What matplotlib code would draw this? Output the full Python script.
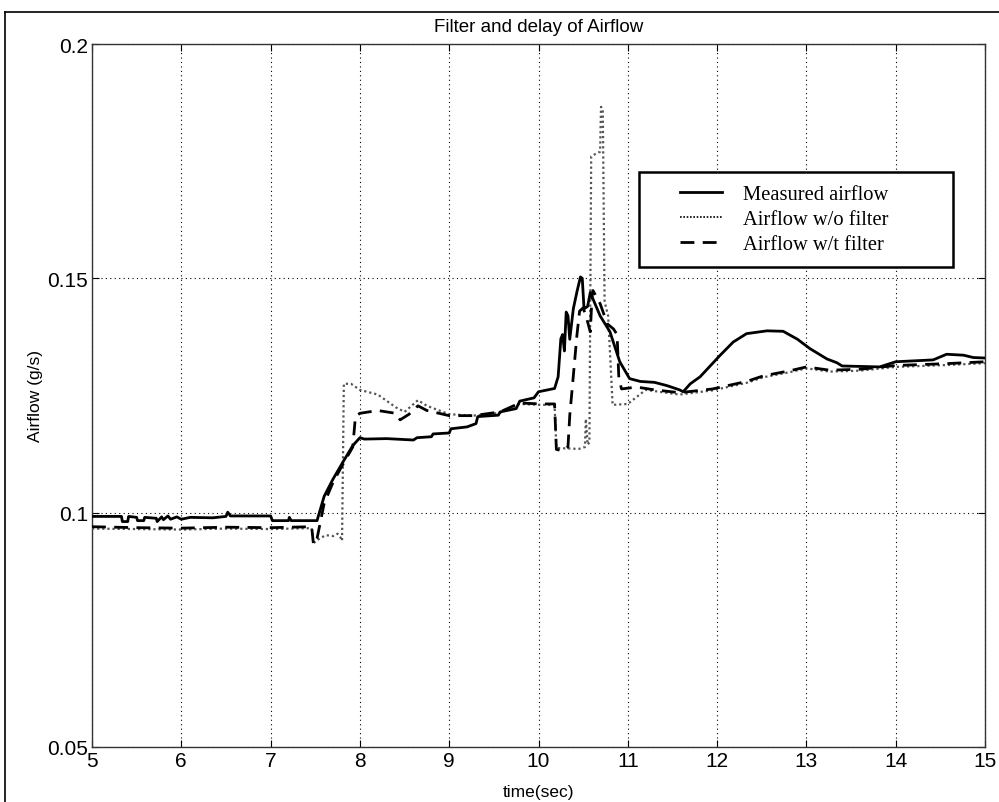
import matplotlib
matplotlib.use("Agg")
import matplotlib.pyplot as plt
from matplotlib.lines import Line2D
from matplotlib.patches import Rectangle

# ---------------- data ----------------
t_meas = [5.0, 5.33, 5.34, 5.40, 5.41, 5.50, 5.51, 5.58, 5.59, 5.72, 5.73, 5.78, 5.80, 5.85,
          5.88, 5.95, 6.00, 6.10, 6.35, 6.50, 6.52, 6.55, 7.00, 7.02, 7.20, 7.21, 7.23, 7.52,
          7.60, 7.70, 7.81, 7.92, 8.00, 8.05, 8.30, 8.60, 8.64, 8.80, 8.82, 9.00, 9.02, 9.20,
          9.30, 9.32, 9.55, 9.57, 9.75, 9.79, 9.95, 10.00, 10.18, 10.22, 10.25, 10.27, 10.29,
          10.31, 10.33, 10.35, 10.39, 10.43, 10.47, 10.49, 10.51, 10.55, 10.58, 10.61, 10.69,
          10.80, 10.91, 11.02, 11.14, 11.30, 11.44, 11.58, 11.62, 11.70, 11.81, 12.03, 12.18,
          12.33, 12.56, 12.74, 12.90, 13.04, 13.23, 13.34, 13.40, 13.82, 14.00, 14.42, 14.57,
          14.76, 14.87, 15.00]
v_meas = [0.0992, 0.0992, 0.0981, 0.0981, 0.0992, 0.0990, 0.0983, 0.0983, 0.0990, 0.0988,
          0.0981, 0.0991, 0.0985, 0.0993, 0.0986, 0.0991, 0.0986, 0.0990, 0.0989, 0.0992,
          0.1001, 0.0993, 0.0993, 0.0983, 0.0983, 0.0990, 0.0983, 0.0983, 0.1035, 0.1072,
          0.1108, 0.1143, 0.1160, 0.1157, 0.1158, 0.1155, 0.1160, 0.1162, 0.1168, 0.1170,
          0.1179, 0.1183, 0.1190, 0.1205, 0.1208, 0.1215, 0.1222, 0.1238, 0.1245, 0.1258,
          0.1265, 0.1290, 0.1371, 0.1380, 0.1345, 0.1428, 0.1420, 0.1370, 0.1435, 0.1471,
          0.1503, 0.1500, 0.1435, 0.1440, 0.1470, 0.1456, 0.1420, 0.1386, 0.1322, 0.1286,
          0.1280, 0.1278, 0.1271, 0.1262, 0.1258, 0.1275, 0.1290, 0.1335, 0.1364, 0.1382,
          0.1388, 0.1387, 0.1370, 0.1350, 0.1328, 0.1320, 0.1313, 0.1311, 0.1322, 0.1326,
          0.1338, 0.1336, 0.1331, 0.1330]

t_nofilt = [5.0, 5.5, 6.0, 6.5, 7.0, 7.46, 7.48, 7.55, 7.62, 7.70, 7.75, 7.78, 7.80, 7.82,
            7.90, 8.00, 8.20, 8.40, 8.50, 8.65, 8.75, 9.00, 9.27, 9.57, 9.79, 10.02, 10.18,
            10.20, 10.45, 10.52, 10.53, 10.55, 10.57, 10.59, 10.66, 10.69, 10.70, 10.72, 10.74,
            10.78, 10.83, 11.00, 11.20, 11.58, 11.95, 12.33, 12.52, 12.82, 13.00, 13.26, 13.60,
            14.00, 14.57, 15.00]
v_nofilt = [0.0966, 0.0965, 0.0964, 0.0966, 0.0965, 0.0967, 0.0935, 0.0945, 0.0952, 0.0950,
            0.0955, 0.0948, 0.0940, 0.1275, 0.1275, 0.1262, 0.1252, 0.1225, 0.1215, 0.1240,
            0.1228, 0.1210, 0.1207, 0.1213, 0.1232, 0.1230, 0.1230, 0.1138, 0.1136, 0.1140,
            0.1200, 0.1145, 0.1150, 0.1760, 0.1768, 0.1770, 0.1866, 0.1860, 0.1450, 0.1420,
            0.1230, 0.1232, 0.1262, 0.1252, 0.1261, 0.1277, 0.1289, 0.1300, 0.1308, 0.1301,
            0.1303, 0.1311, 0.1315, 0.1319]

t_filt = [5.0, 5.5, 6.0, 6.5, 7.0, 7.46, 7.48, 7.52, 7.60, 7.70, 7.80, 7.92, 7.95, 8.00, 8.20,
          8.40, 8.45, 8.55, 8.65, 8.75, 9.00, 9.27, 9.57, 9.79, 10.02, 10.18, 10.20, 10.27,
          10.33, 10.35, 10.39, 10.43, 10.46, 10.50, 10.54, 10.58, 10.60, 10.61, 10.69, 10.77,
          10.84, 10.88, 10.90, 10.93, 11.10, 11.30, 11.58, 11.95, 12.33, 12.52, 12.82, 13.00,
          13.26, 13.60, 14.00, 14.57, 15.00]
v_filt = [0.0970, 0.0968, 0.0967, 0.0969, 0.0968, 0.0970, 0.0932, 0.0945, 0.1020, 0.1065,
          0.1100, 0.1140, 0.1205, 0.1212, 0.1218, 0.1212, 0.1198, 0.1210, 0.1228, 0.1218,
          0.1207, 0.1207, 0.1215, 0.1234, 0.1232, 0.1232, 0.1135, 0.1132, 0.1140, 0.1207,
          0.1292, 0.1378, 0.1430, 0.1437, 0.1414, 0.1386, 0.1463, 0.1474, 0.1446, 0.1403,
          0.1392, 0.1380, 0.1286, 0.1264, 0.1268, 0.1262, 0.1256, 0.1264, 0.1280, 0.1292,
          0.1303, 0.1311, 0.1304, 0.1306, 0.1314, 0.1318, 0.1322]

x_ticks = [5, 6, 7, 8, 9, 10, 11, 12, 13, 14, 15]
y_ticks = [0.05, 0.1, 0.15, 0.2]
y_ticklabels = ["0.05", "0.1", "0.15", "0.2"]
labels = ["Measured airflow", "Airflow w/o filter", "Airflow w/t filter"]

# ---------------- figure ----------------
W, H = 999, 803
fig = plt.figure(figsize=(W / 100, H / 100), dpi=100)
ax = fig.add_axes([92 / W, 1 - 748 / H, (985 - 92) / W, (748 - 45) / H])

sans = "Liberation Sans"
serif = "Liberation Serif"

ax.plot(t_meas, v_meas, color="black", lw=2.0, ls="-", zorder=4)
ax.plot(t_nofilt, v_nofilt, color="#555555", lw=1.6, ls=(0, (1, 1.3)), zorder=3)
ax.plot(t_filt, v_filt, color="black", lw=2.0, ls=(0, (5, 3)), zorder=3)

ax.set_xlim(5, 15)
ax.set_ylim(0.05, 0.2)
ax.set_xticks(x_ticks)
ax.set_xticklabels([str(v) for v in x_ticks], fontfamily=sans, fontsize=15)
ax.set_yticks(y_ticks)
ax.set_yticklabels(y_ticklabels, fontfamily=sans, fontsize=15)
ax.tick_params(direction="in", length=5, width=0.8, top=True, right=True, pad=3)
ax.grid(True, color="black", ls=(0, (1, 3)), lw=0.8)
for s in ax.spines.values():
    s.set_linewidth(1.0)
    s.set_color("#333333")

ax.set_title("Filter and delay of Airflow", fontfamily=sans, fontsize=13.5, pad=9)
ax.set_xlabel("time(sec)", fontfamily=sans, fontsize=12.5, labelpad=10)
ax.set_ylabel("Airflow (g/s)", fontfamily=sans, fontsize=12.5, labelpad=3)

# legend (handles + text), frame drawn separately
h1 = Line2D([], [], color="black", lw=2.0)
h2 = Line2D([], [], color="black", lw=1.2, ls=(0, (1, 1)))
h3 = Line2D([], [], color="black", lw=2.0, ls=(0, (5, 3)))
leg = ax.legend([h1, h2, h3], labels, loc="upper left",
                bbox_to_anchor=(680 / W, 1 - 186 / H), bbox_transform=fig.transFigure,
                prop={"family": serif, "size": 14.8}, frameon=False,
                handlelength=2.05, handletextpad=1.0, borderpad=0.0, labelspacing=0.27,
                borderaxespad=0.0)
fig.add_artist(Rectangle((639 / W, 1 - 268 / H), (953 - 639) / W, (268 - 173) / H,
                         transform=fig.transFigure, fill=True, facecolor="white",
                         edgecolor="black", lw=1.8, zorder=2))
leg.set_zorder(5)
fig.add_artist(leg)

# figure border frame
fig.add_artist(Line2D([5 / W, 5 / W], [0, 1 - 13 / H], transform=fig.transFigure,
                      color="black", lw=1.2))
fig.add_artist(Line2D([5 / W, 1], [1 - 13 / H, 1 - 13 / H], transform=fig.transFigure,
                      color="black", lw=1.2))

fig.savefig("out.png", dpi=100)
